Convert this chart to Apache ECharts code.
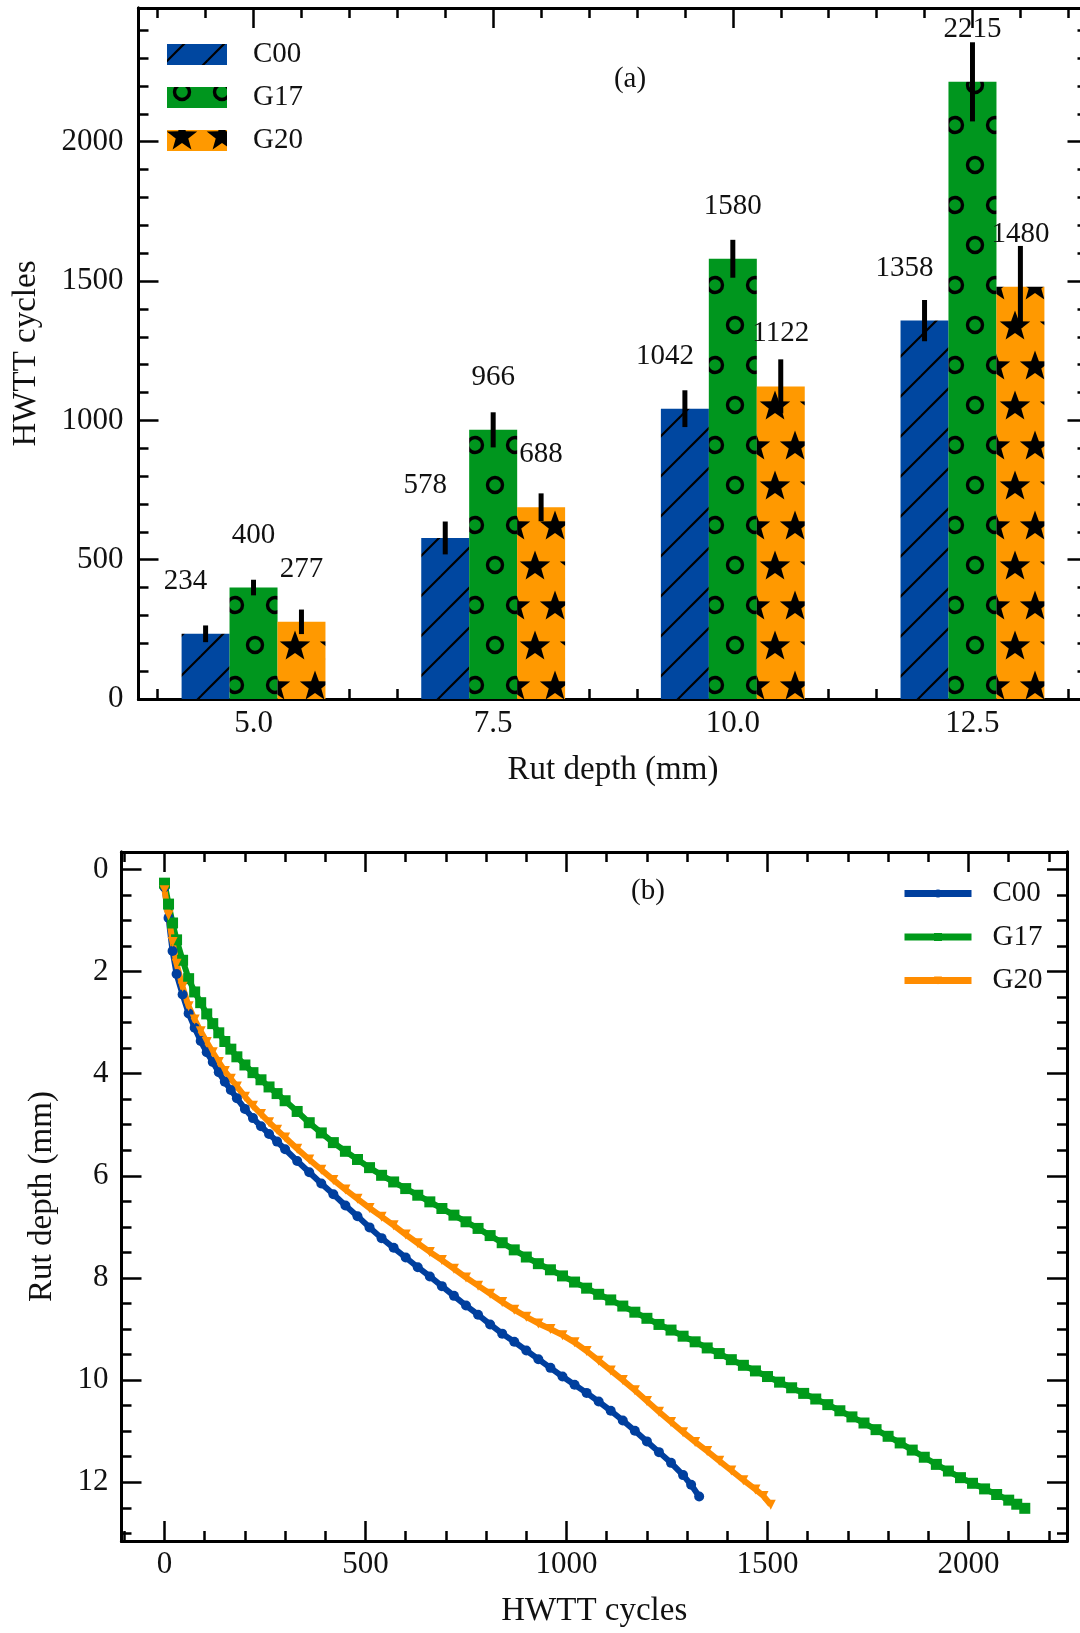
<!DOCTYPE html>
<html><head><meta charset="utf-8">
<script src="https://cdn.jsdelivr.net/npm/echarts@6/dist/echarts.min.js"></script>
<style>html,body{margin:0;padding:0;background:#fff}#c{width:1080px;height:1633px}</style>
</head><body><div id="c"></div>
<script>
// ---------- Panel (a) data ----------
const rutDepths = [5.0, 7.5, 10.0, 12.5];
const c00Cycles = [234, 578, 1042, 1358];
const g17Cycles = [400, 966, 1580, 2215];
const g20Cycles = [277, 688, 1122, 1480];
const c00Err = [30, 59, 66, 74];
const g17Err = [28, 63, 68, 142];
const g20Err = [44, 50, 97, 146];
const yTicksA = [0, 500, 1000, 1500, 2000];
const yMinorA = [0,100,200,300,400,500,600,700,800,900,1000,1100,1200,1300,1400,1500,1600,1700,1800,1900,2000,2100,2200,2300,2400];
const xTicksA = [5.0, 7.5, 10.0, 12.5];
const xMinorA = [4.0,4.5,5.0,5.5,6.0,6.5,7.0,7.5,8.0,8.5,9.0,9.5,10.0,10.5,11.0,11.5,12.0,12.5,13.0,13.5];

// ---------- Panel (b) data ----------
const c00B_cycles = [0,10,20,30,45,60,75,90,105,120,135,150,165,180,200,220,240,260,280,300,330,360,390,420,450,480,510,540,570,600,630,660,690,720,750,780,810,840,870,900,930,960,990,1020,1050,1080,1110,1140,1170,1200,1230,1260,1290,1310,1330];
const c00B_depth = [0.35,0.95,1.6,2.05,2.45,2.82,3.1,3.36,3.58,3.77,3.97,4.16,4.32,4.48,4.69,4.87,5.03,5.18,5.33,5.48,5.71,5.93,6.15,6.36,6.58,6.79,7.01,7.22,7.41,7.6,7.79,7.97,8.16,8.35,8.54,8.72,8.91,9.09,9.25,9.42,9.59,9.76,9.93,10.09,10.25,10.42,10.6,10.79,10.99,11.2,11.41,11.62,11.86,12.05,12.28];
const g17B_cycles = [0,10,20,30,45,60,75,90,105,120,135,150,165,180,200,220,240,260,280,300,330,360,390,420,450,480,510,540,570,600,630,660,690,720,750,780,810,840,870,900,930,960,990,1020,1050,1080,1110,1140,1170,1200,1230,1260,1290,1320,1350,1380,1410,1440,1470,1500,1530,1560,1590,1620,1650,1680,1710,1740,1770,1800,1830,1860,1890,1920,1950,1980,2010,2040,2070,2100,2120,2140];
const g17B_depth = [0.27,0.68,1.05,1.38,1.78,2.14,2.4,2.61,2.83,3.02,3.2,3.37,3.52,3.67,3.83,3.98,4.12,4.26,4.39,4.53,4.74,4.96,5.16,5.35,5.52,5.68,5.84,5.99,6.12,6.25,6.38,6.51,6.64,6.77,6.9,7.03,7.17,7.31,7.45,7.59,7.72,7.84,7.96,8.08,8.2,8.32,8.43,8.55,8.67,8.79,8.91,9.02,9.14,9.25,9.37,9.48,9.6,9.71,9.82,9.93,10.04,10.15,10.26,10.37,10.48,10.6,10.72,10.84,10.97,11.1,11.23,11.37,11.51,11.65,11.78,11.91,12.02,12.13,12.24,12.35,12.43,12.51];
const g20B_cycles = [0,10,20,30,45,60,75,90,105,120,135,150,165,180,200,220,240,260,280,300,330,360,390,420,450,480,510,540,570,600,630,660,690,720,750,780,810,840,870,900,930,960,990,1020,1050,1080,1110,1140,1170,1200,1230,1260,1290,1320,1350,1380,1410,1440,1470,1490,1508];
const g20B_depth = [0.41,0.9,1.42,1.85,2.3,2.68,2.94,3.17,3.38,3.58,3.77,3.95,4.1,4.25,4.45,4.63,4.79,4.95,5.1,5.25,5.47,5.68,5.88,6.08,6.27,6.45,6.63,6.8,6.97,7.15,7.32,7.49,7.65,7.82,7.99,8.15,8.31,8.47,8.62,8.76,8.89,9.0,9.12,9.26,9.43,9.62,9.81,10.0,10.2,10.41,10.62,10.82,11.02,11.21,11.39,11.58,11.77,11.96,12.14,12.27,12.44];
const xTicksB = [0, 500, 1000, 1500, 2000];
const xMinorB = [-100,0,100,200,300,400,500,600,700,800,900,1000,1100,1200,1300,1400,1500,1600,1700,1800,1900,2000,2100,2200];
const yTicksB = [0, 2, 4, 6, 8, 10, 12];
const yMinorB = [0,0.5,1,1.5,2,2.5,3,3.5,4,4.5,5,5.5,6,6.5,7,7.5,8,8.5,9,9.5,10,10.5,11,11.5,12,12.5,13];

const FONT = '"Liberation Serif", "Times New Roman", serif';
const TXT = '#111';
const BLUE = '#0047a0', GREEN = '#00961e', ORANGE = '#ff9900';
const BLUE_B = '#003f9e', GREEN_B = '#009a1a', ORANGE_B = '#ff8c00';

// ---------- hatch patterns ----------
function starPath(ctx, cx, cy, R, r) {
  ctx.beginPath();
  for (let i = 0; i < 10; i++) {
    const rad = i % 2 === 0 ? R : r;
    const a = -Math.PI / 2 + i * Math.PI / 5;
    const px = cx + rad * Math.cos(a), py = cy + rad * Math.sin(a);
    if (i === 0) ctx.moveTo(px, py); else ctx.lineTo(px, py);
  }
  ctx.closePath();
}
function makePattern(bg, kind) {
  const c = document.createElement('canvas');
  if (kind === 'hatch') {
    c.width = 40; c.height = 40;
    const g = c.getContext('2d');
    g.fillStyle = bg; g.fillRect(0, 0, 40, 40);
    g.strokeStyle = '#000'; g.lineWidth = 2.2;
    [-23, 17, 57, 97].forEach(k => { g.beginPath(); g.moveTo(k + 5, -5); g.lineTo(-5, k + 5); g.stroke(); });
  } else {
    c.width = 40; c.height = 80;
    const g = c.getContext('2d');
    g.fillStyle = bg; g.fillRect(0, 0, 40, 80);
    const pts = [];
    [[15, 5], [35, 45]].forEach(([x, y]) => {
      for (let dx = -40; dx <= 40; dx += 40) for (let dy = -80; dy <= 80; dy += 80) pts.push([x + dx, y + dy]);
    });
    pts.forEach(([x, y]) => {
      if (kind === 'circle') {
        g.strokeStyle = '#000'; g.lineWidth = 3.4;
        g.beginPath(); g.arc(x, y, 7.5, 0, Math.PI * 2); g.stroke();
      } else {
        g.fillStyle = '#000';
        starPath(g, x, y + 1.5, 16, 6.6); g.fill();
      }
    });
  }
  return { image: c, repeat: 'repeat' };
}
const patC00 = makePattern(BLUE, 'hatch');
const patG17 = makePattern(GREEN, 'circle');
const patG20 = makePattern(ORANGE, 'star');

// ---------- axes helper ----------
function axis(gridIndex, position, min, max, ticks, len, extra) {
  const a = {
    type: 'value', gridIndex: gridIndex, position: position, min: min, max: max,
    axisLine: { show: true, onZero: false, lineStyle: { color: '#000', width: 3 } },
    axisTick: { show: true, inside: true, length: len, customValues: ticks, lineStyle: { color: '#000', width: 2.5 } },
    axisLabel: { show: false },
    splitLine: { show: false }
  };
  return Object.assign(a, extra || {});
}
const labelStyle = { show: true, color: TXT, fontSize: 31, fontFamily: FONT };
const nameStyle = { color: TXT, fontSize: 33, fontFamily: FONT };
const plain = v => String(Math.round(v * 100) / 100);

const XA = [3.8, 13.7], YA = [0, 2480];
const XB = [-107, 2245], YB = [-0.34, 13.15];

const xAxes = [
  axis(0, 'bottom', XA[0], XA[1], xTicksA, 20, {
    axisLabel: Object.assign({}, labelStyle, { customValues: xTicksA, margin: 9, formatter: v => Number(v).toFixed(1) }),
    name: 'Rut depth (mm)', nameLocation: 'middle', nameGap: 55, nameTextStyle: nameStyle
  }),
  axis(0, 'bottom', XA[0], XA[1], xMinorA, 10),
  axis(0, 'top', XA[0], XA[1], xTicksA, 20),
  axis(0, 'top', XA[0], XA[1], xMinorA, 10),
  axis(1, 'bottom', XB[0], XB[1], xTicksB, 20, {
    axisLabel: Object.assign({}, labelStyle, { customValues: xTicksB, margin: 8, formatter: plain }),
    name: 'HWTT cycles', nameLocation: 'middle', nameGap: 54, nameTextStyle: nameStyle
  }),
  axis(1, 'bottom', XB[0], XB[1], xMinorB, 10),
  axis(1, 'top', XB[0], XB[1], xTicksB, 20),
  axis(1, 'top', XB[0], XB[1], xMinorB, 10)
];
const yAxes = [
  axis(0, 'left', YA[0], YA[1], yTicksA, 20, {
    axisLabel: Object.assign({}, labelStyle, { customValues: yTicksA, margin: 15, formatter: plain }),
    name: 'HWTT cycles', nameLocation: 'middle', nameGap: 96, nameTextStyle: nameStyle
  }),
  axis(0, 'left', YA[0], YA[1], yMinorA, 10),
  axis(0, 'right', YA[0], YA[1], yTicksA, 20),
  axis(0, 'right', YA[0], YA[1], yMinorA, 10),
  axis(1, 'left', YB[0], YB[1], yTicksB, 20, {
    inverse: true,
    axisLabel: Object.assign({}, labelStyle, { customValues: yTicksB, margin: 13, formatter: plain }),
    name: 'Rut depth (mm)', nameLocation: 'middle', nameGap: 63, nameTextStyle: nameStyle
  }),
  axis(1, 'left', YB[0], YB[1], yMinorB, 10, { inverse: true }),
  axis(1, 'right', YB[0], YB[1], yTicksB, 20, { inverse: true }),
  axis(1, 'right', YB[0], YB[1], yMinorB, 10, { inverse: true })
];

// ---------- series ----------
const barDefs = [
  { name: 'C00', vals: c00Cycles, err: c00Err, off: -0.5, pat: patC00, lblOff: [-20, 0] },
  { name: 'G17', vals: g17Cycles, err: g17Err, off: 0, pat: patG17, lblOff: [0, 0] },
  { name: 'G20', vals: g20Cycles, err: g20Err, off: 0.5, pat: patG20, lblOff: [0, 0] }
];
const series = [];
barDefs.forEach(d => {
  series.push({
    name: d.name, type: 'bar', xAxisIndex: 0, yAxisIndex: 0,
    barWidth: 48, barGap: '-100%',
    data: rutDepths.map((r, i) => [r + d.off, d.vals[i]]),
    itemStyle: { color: d.pat },
    label: { show: true, position: 'top', distance: 38, offset: d.lblOff, color: TXT, fontSize: 29, fontFamily: FONT,
      formatter: p => String(p.value[1]) },
    z: 2
  });
});
barDefs.forEach(d => {
  series.push({
    type: 'custom', xAxisIndex: 0, yAxisIndex: 0, z: 5, silent: true,
    encode: { x: 0, y: 1 },
    data: rutDepths.map((r, i) => [r + d.off, d.vals[i], d.err[i]]),
    renderItem: function (params, api) {
      const x = api.value(0), v = api.value(1), e = api.value(2);
      const p1 = api.coord([x, v + e]), p2 = api.coord([x, v - e]);
      return { type: 'line', shape: { x1: p1[0], y1: p1[1], x2: p2[0], y2: p2[1] },
        style: { stroke: '#000', lineWidth: 5 } };
    }
  });
});
const lineDefs = [
  { name: 'C00 (b)', cyc: c00B_cycles, dep: c00B_depth, color: BLUE_B, symbol: 'circle', size: 10, rot: 0 },
  { name: 'G17 (b)', cyc: g17B_cycles, dep: g17B_depth, color: GREEN_B, symbol: 'rect', size: 11, rot: 0 },
  { name: 'G20 (b)', cyc: g20B_cycles, dep: g20B_depth, color: ORANGE_B, symbol: 'triangle', size: 10, rot: 180 }
];
lineDefs.forEach(d => {
  series.push({
    name: d.name, type: 'line', xAxisIndex: 4, yAxisIndex: 4,
    data: d.cyc.map((c, i) => [c, d.dep[i]]),
    symbol: d.symbol, symbolSize: d.size, symbolRotate: d.rot,
    showSymbol: true, showAllSymbol: true,
    lineStyle: { color: d.color, width: 6 },
    itemStyle: { color: d.color },
    animation: false
  });
});

const chart = echarts.init(document.getElementById('c'), null, { renderer: 'canvas' });
chart.setOption({
  backgroundColor: '#fff',
  animation: false,
  grid: [
    { left: 138.5, top: 8, width: 949, height: 691, outerBoundsMode: 'none', containLabel: false },
    { left: 121.5, top: 852, width: 945.5, height: 689, outerBoundsMode: 'none', containLabel: false }
  ],
  xAxis: xAxes,
  yAxis: yAxes,
  legend: [
    { data: ['C00', 'G17', 'G20'], orient: 'vertical', left: 162, top: 35, itemWidth: 60, itemHeight: 21,
      itemGap: 14, icon: 'rect', selectedMode: false,
      textStyle: { color: TXT, fontSize: 29, fontFamily: FONT, padding: [0, 0, 0, 21] } },
    { data: ['C00 (b)', 'G17 (b)', 'G20 (b)'], orient: 'vertical', left: 896, top: 874, itemWidth: 67, itemHeight: 10,
      itemGap: 14.5, selectedMode: false, formatter: n => n.replace(' (b)', ''),
      lineStyle: { width: 7 },
      textStyle: { color: TXT, fontSize: 29, fontFamily: FONT, padding: [0, 0, 0, 16] } }
  ],
  graphic: [
    { type: 'text', x: 630, y: 79, style: { text: '(a)', fill: TXT, fontSize: 29, fontFamily: FONT, align: 'center', verticalAlign: 'middle' } },
    { type: 'text', x: 648, y: 891, style: { text: '(b)', fill: TXT, fontSize: 29, fontFamily: FONT, align: 'center', verticalAlign: 'middle' } }
  ],
  series: series
});
</script>
</body></html>
